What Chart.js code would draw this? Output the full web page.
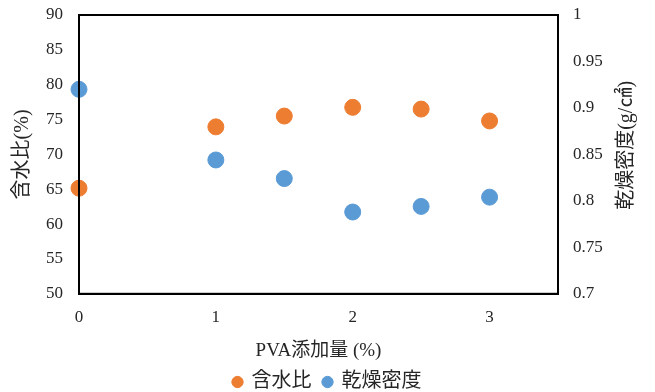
<!DOCTYPE html>
<html>
<head>
<meta charset="utf-8">
<script src="https://cdn.jsdelivr.net/npm/chart.js@4/dist/chart.umd.min.js"></script>
<style>
  html, body { margin: 0; padding: 0; background: #fff; }
  #wrap { width: 655px; height: 392px; position: relative; }
</style>
</head>
<body>
<div id="wrap"><canvas id="c" width="655" height="392"></canvas></div>
<script>
// PVA content (%) and the measured values at each content
const pvaContent = [0, 1, 1.5, 2, 2.5, 3];
const waterContent = [65.15, 73.95, 75.5, 76.75, 76.5, 74.8];   // 含水比 (%)
const dryDensity = [0.920, 0.844, 0.824, 0.788, 0.794, 0.804];  // 乾燥密度 (g/cm2)

const seriesNames = ['含水比', '乾燥密度'];
const xTitle = 'PVA添加量 (%)';
const yLeftTitle = '含水比(%)';
const yRightTitle = '乾燥密度(g/㎠)';

const ORANGE = '#ED7D31';
const BLUE = '#5B9BD5';
const TEXT = '#262626';
const numFont = { family: '"Liberation Serif", "Times New Roman", serif', size: 17 };
const cjkFont = '"Liberation Serif", "Noto Sans CJK JP", sans-serif';

const toPoints = (ys) => pvaContent.map((x, i) => ({ x, y: ys[i] }));

// frame around the plot area plus the right-hand title (reads bottom-to-top)
const framePlugin = {
  id: 'frame',
  afterDraw(chart) {
    const { ctx, chartArea: a } = chart;
    ctx.save();
    ctx.strokeStyle = '#000';
    ctx.lineWidth = 2;
    ctx.strokeRect(a.left, a.top, a.right - a.left, a.bottom - a.top);
    const yr = chart.scales.yRight;
    ctx.translate(yr.right - 28, (a.top + a.bottom) / 2 - 9);
    ctx.rotate(-Math.PI / 2);
    ctx.font = '20px ' + cjkFont;
    ctx.fillStyle = TEXT;
    ctx.textAlign = 'center';
    ctx.textBaseline = 'middle';
    ctx.fillText(yRightTitle, 0, 0);
    ctx.restore();
  }
};

// fixed side widths; edge-label padding is handled by layout.padding
function fixVertical(width) {
  return (s) => { s.width = width; s.paddingTop = 0; s.paddingBottom = 0; };
}

new Chart(document.getElementById('c'), {
  type: 'scatter',
  data: {
    datasets: [
      {
        label: seriesNames[0],
        data: toPoints(waterContent),
        yAxisID: 'yLeft',
        backgroundColor: ORANGE,
        borderColor: ORANGE,
        pointRadius: 8,
        pointHoverRadius: 8,
        pointStyle: 'circle'
      },
      {
        label: seriesNames[1],
        data: toPoints(dryDensity),
        yAxisID: 'yRight',
        backgroundColor: BLUE,
        borderColor: BLUE,
        pointRadius: 8,
        pointHoverRadius: 8,
        pointStyle: 'circle'
      }
    ]
  },
  options: {
    responsive: false,
    animation: false,
    clip: false,
    layout: { padding: { top: 15, bottom: -10, left: 0, right: 0 } },
    plugins: {
      tooltip: { enabled: false },
      legend: {
        position: 'bottom',
        labels: {
          usePointStyle: true,
          pointStyle: 'circle',
          boxWidth: 8,
          boxHeight: 8,
          padding: 12,
          color: TEXT,
          font: { family: cjkFont, size: 20 }
        }
      }
    },
    scales: {
      x: {
        type: 'linear',
        min: 0,
        max: 3.5,
        grid: { display: false, drawTicks: false },
        border: { display: true, color: '#000', width: 2 },
        ticks: {
          stepSize: 1,
          color: TEXT,
          font: numFont,
          padding: 14,
          callback: (v) => Number.isInteger(v) ? v : ''
        },
        title: {
          display: true,
          text: xTitle,
          color: TEXT,
          font: { family: cjkFont, size: 19 },
          padding: { top: -3, bottom: -2 }
        }
      },
      yLeft: {
        type: 'linear',
        position: 'left',
        min: 50,
        max: 90,
        grid: { display: false, drawTicks: false },
        border: { display: true, color: '#000', width: 2 },
        ticks: { stepSize: 5, color: TEXT, font: numFont, padding: 16 },
        title: {
          display: true,
          text: yLeftTitle,
          color: TEXT,
          font: { family: cjkFont, size: 20 },
          padding: { top: 11, bottom: 0 }
        },
        afterFit: fixVertical(79)
      },
      yRight: {
        type: 'linear',
        position: 'right',
        min: 0.7,
        max: 1.0,
        grid: { display: false, drawTicks: false },
        border: { display: true, color: '#000', width: 2 },
        ticks: { stepSize: 0.05, color: TEXT, font: numFont, padding: 15,
                 callback: (v) => +v.toFixed(2) },
        afterFit: fixVertical(97)
      }
    }
  },
  plugins: [framePlugin]
});
</script>
</body>
</html>
